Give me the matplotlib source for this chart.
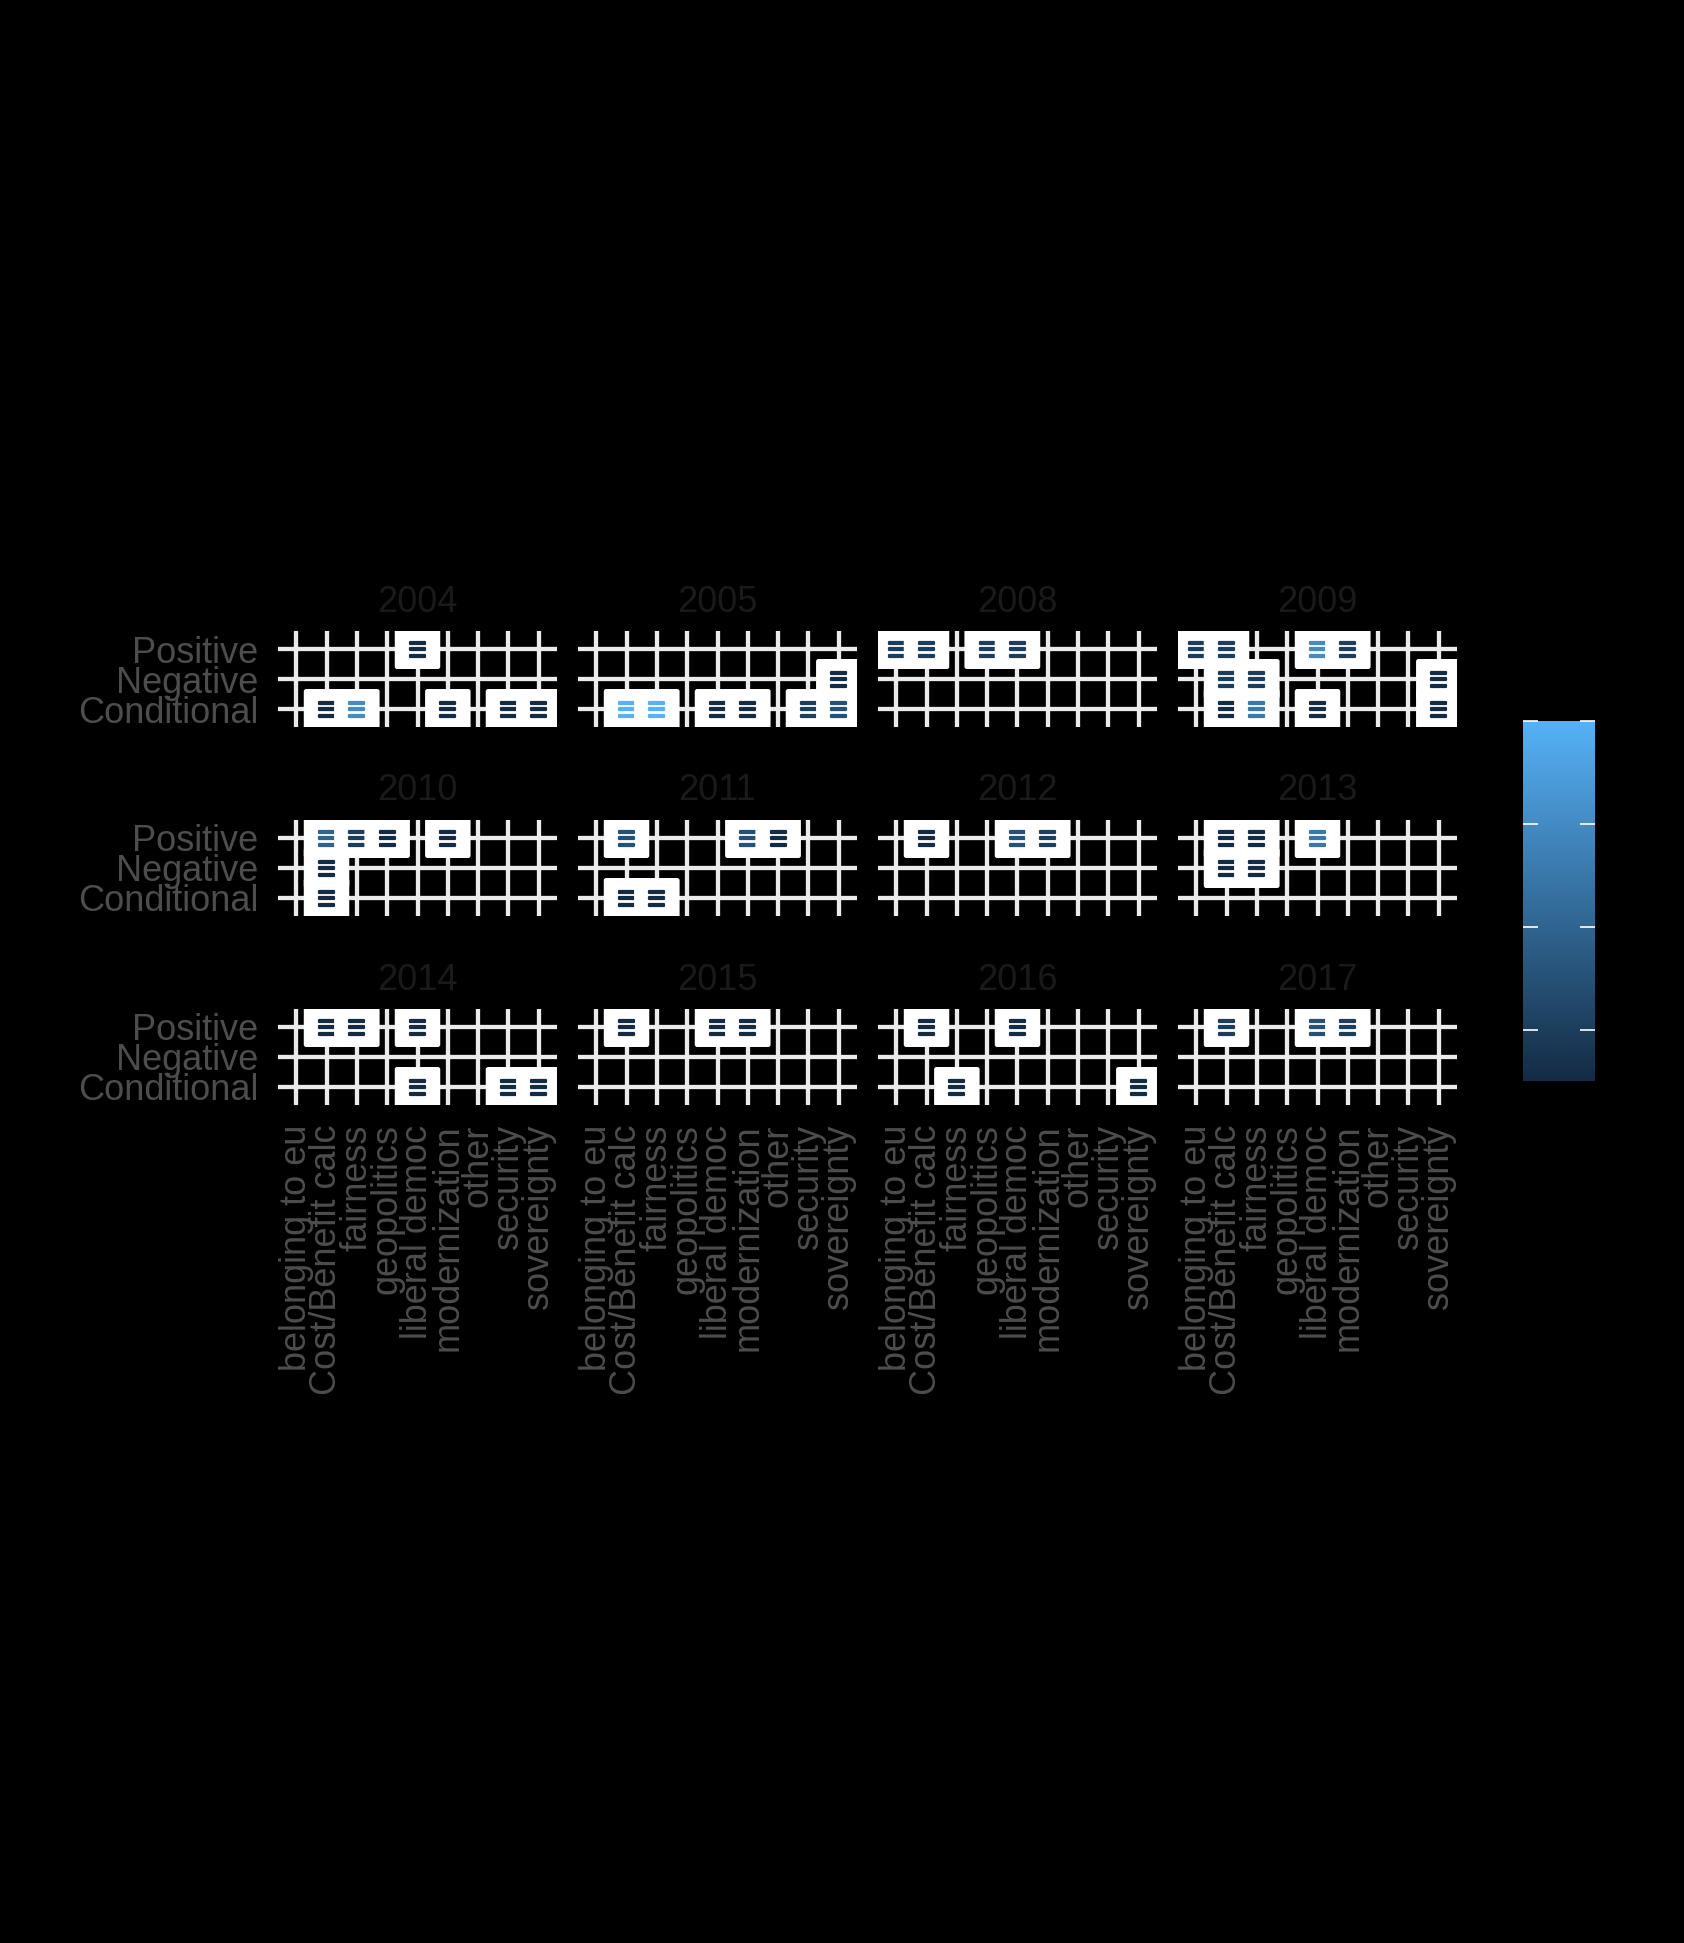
import matplotlib
matplotlib.use("Agg")
import matplotlib.pyplot as plt
import matplotlib.patheffects as pe
from matplotlib.colors import LinearSegmentedColormap, Normalize
from matplotlib.cm import ScalarMappable
from matplotlib.patches import FancyBboxPatch

years = ["2004", "2005", "2008", "2009", "2010", "2011",
         "2012", "2013", "2014", "2015", "2016", "2017"]
categories = ["belonging to eu", "Cost/Benefit calc", "fairness", "geopolitics",
              "liberal democ", "modernization", "other", "security", "sovereignty"]
stances = ["Conditional", "Negative", "Positive"]

# one entry per label: year, category index (1-9), stance index (1-3), count
lab_year = (["2004"] * 6 + ["2005"] * 7 + ["2008"] * 4 + ["2009"] * 11 +
            ["2010"] * 6 + ["2011"] * 5 + ["2012"] * 3 + ["2013"] * 5 +
            ["2014"] * 6 + ["2015"] * 3 + ["2016"] * 4 + ["2017"] * 3)
lab_cat = [2, 3, 6, 8, 9, 5,
           2, 3, 5, 6, 8, 9, 9,
           1, 2, 4, 5,
           2, 3, 5, 9, 2, 3, 9, 1, 2, 5, 6,
           2, 2, 2, 3, 4, 6,
           2, 3, 2, 6, 7,
           2, 5, 6,
           2, 3, 2, 3, 5,
           5, 8, 9, 2, 3, 5,
           2, 5, 6,
           3, 9, 2, 5,
           2, 5, 6]
lab_stance = [1, 1, 1, 1, 1, 3,
              1, 1, 1, 1, 1, 1, 2,
              3, 3, 3, 3,
              1, 1, 1, 1, 2, 2, 2, 3, 3, 3, 3,
              1, 2, 3, 3, 3, 3,
              1, 1, 3, 3, 3,
              3, 3, 3,
              2, 2, 3, 3, 3,
              1, 1, 1, 3, 3, 3,
              3, 3, 3,
              1, 1, 3, 3,
              3, 3, 3]
lab_n = [1, 6, 1, 1, 1, 1,
         8, 8, 1, 1, 2, 3, 1,
         2, 2, 2, 2,
         1, 5, 1, 1, 2, 2, 1, 2, 2, 6, 2,
         1, 1, 4, 2, 1, 1,
         1, 1, 3, 3, 1,
         1, 3, 2,
         1, 1, 1, 1, 5,
         1, 1, 1, 1, 1, 1,
         1, 1, 1,
         1, 1, 1, 1,
         2, 3, 2]

W, H = 1684, 1943
fig = plt.figure(figsize=(W / 100, H / 100), dpi=100, facecolor="black")
plt.rcParams["font.family"] = ["Liberation Sans", "DejaVu Sans"]

cmap = LinearSegmentedColormap.from_list("gg", ["#132B43", "#56B1F7"])
norm = Normalize(vmin=1, vmax=8)


def px_axes(left, top, w, h):
    return fig.add_axes([left / W, 1 - (top + h) / H, w / W, h / H])


col_left = [278, 578, 878, 1178]
row_top = [631, 820, 1009]
pw, ph = 279, 96

for k, yr in enumerate(years):
    r, c = divmod(k, 4)
    ax = px_axes(col_left[c], row_top[r], pw, ph)
    ax.set_facecolor("black")
    ax.set_xlim(0.4, 9.6)
    ax.set_ylim(0.4, 3.6)
    ax.set_xticks(range(1, 10))
    ax.set_yticks([1, 2, 3])
    ax.grid(True, color="#EBEBEB", linewidth=3.1)
    ax.set_axisbelow(True)
    for s in ax.spines.values():
        s.set_visible(False)
    ax.tick_params(length=0, pad=14, labelsize=26, colors="#4D4D4D")
    if c == 0:
        ax.set_yticklabels(stances)
    else:
        ax.set_yticklabels([])
    if r == 2:
        ax.set_xticklabels(categories, rotation=90, ha="center", va="top")
    else:
        ax.set_xticklabels([])
    ax.text(0.5, 1 + 29 / ph, yr, transform=ax.transAxes, ha="center",
            va="center", fontsize=26, color="#1A1A1A")

    z = 3
    for y0, x, s, n in zip(lab_year, lab_cat, lab_stance, lab_n):
        if y0 != yr:
            continue
        col = cmap(norm(n))
        box = FancyBboxPatch((x - 0.75, s - 0.667), 1.5, 1.333,
                             boxstyle="round,pad=0,rounding_size=0.08",
                             fc="white", ec="none", zorder=z)
        ax.add_patch(box)
        ax.text(x, s, "\u2630", fontsize=15, color=col,
                ha="center", va="center_baseline", family="DejaVu Sans",
                zorder=z + 1,
                path_effects=[pe.withStroke(linewidth=1.6, foreground=col)])
        z += 2

cax = px_axes(1523, 721, 72, 360)
cb = fig.colorbar(ScalarMappable(norm=norm, cmap=cmap), cax=cax)
cb.outline.set_visible(False)
cb.set_ticks([2, 4, 6, 8])
cax.tick_params(direction="in", length=10.8, width=1.2, color="white",
                left=True, right=True, labelleft=False, labelright=False)

fig.savefig("out.png", dpi=100, facecolor="black")
